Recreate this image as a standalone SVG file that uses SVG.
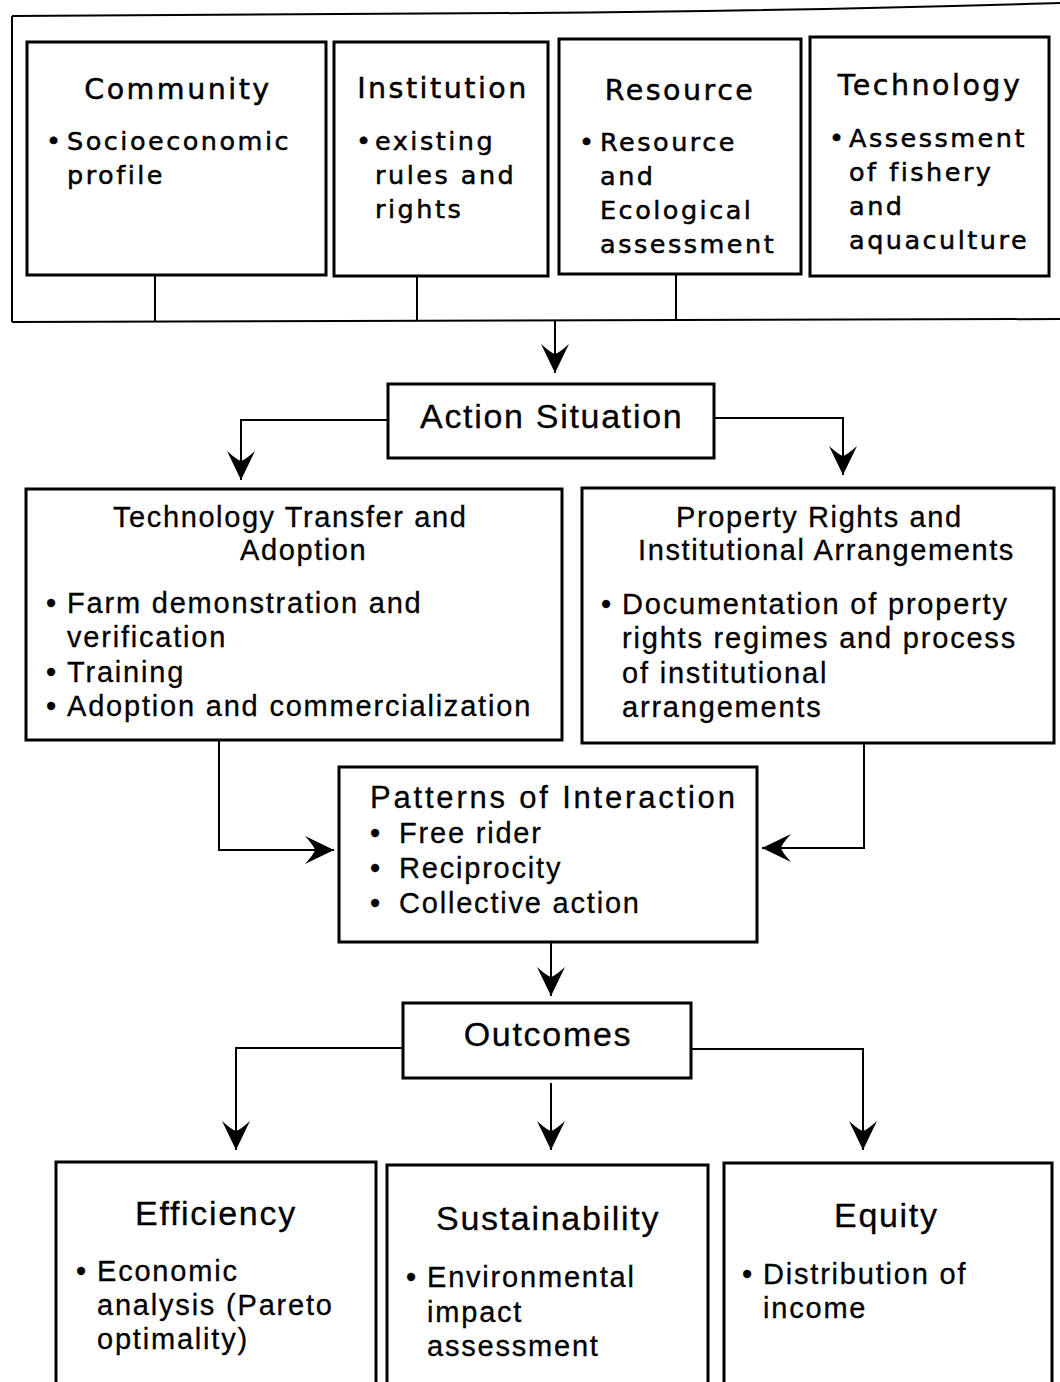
<svg xmlns="http://www.w3.org/2000/svg" width="1060" height="1382" viewBox="0 0 1060 1382">
<defs>
<marker id="ah" viewBox="0 0 30 30" refX="30" refY="15" markerWidth="30" markerHeight="30" markerUnits="userSpaceOnUse" orient="auto">
<path d="M30,15 L1,1 Q10,11 11,15 Q10,19 1,29 Z" fill="#000"/>
</marker>
<style>
.box{fill:#fff;stroke:#000;stroke-width:3}
.ln{fill:none;stroke:#000;stroke-width:2}
.tt{font-family:"DejaVu Sans",Verdana,sans-serif;font-size:28.5px;letter-spacing:2.5px;fill:#000;stroke:#000;stroke-width:0.5px}
.tb{font-family:"DejaVu Sans",Verdana,sans-serif;font-size:25.5px;letter-spacing:2.5px;fill:#000;stroke:#000;stroke-width:0.5px}
.mh{font-family:"Liberation Sans",Arial,sans-serif;font-size:34px;letter-spacing:1.7px;fill:#000;stroke:#000;stroke-width:0.3px}
.mt{font-family:"Liberation Sans",Arial,sans-serif;font-size:29px;letter-spacing:1.6px;fill:#000;stroke:#000;stroke-width:0.3px}
.mb{font-family:"Liberation Sans",Arial,sans-serif;font-size:29px;letter-spacing:1.8px;fill:#000;stroke:#000;stroke-width:0.3px}
.pt{font-family:"Liberation Sans",Arial,sans-serif;font-size:31px;letter-spacing:2.8px;fill:#000;stroke:#000;stroke-width:0.3px}
.mid{text-anchor:middle}
</style>
</defs>
<rect width="1060" height="1382" fill="#fff"/>

<g id="frame">
<path class="ln" d="M12,16 L530,13 C800,11 950,6 1060,3"/>
<path class="ln" d="M12,16 L12,322"/>
<path class="ln" d="M12,322 L1060,319"/>
</g>

<g id="community">
<rect class="box" x="27" y="42" width="299" height="233"/>
<text class="tt mid" x="178" y="99">Community</text>
<text class="tb" x="46" y="150">•</text>
<text class="tb" x="67" y="150">Socioeconomic</text>
<text class="tb" x="67" y="184">profile</text>
</g>

<g id="institution">
<rect class="box" x="334" y="42" width="214" height="234"/>
<text class="tt mid" x="443" y="98">Institution</text>
<text class="tb" x="356" y="150">•</text>
<text class="tb" x="375" y="150">existing</text>
<text class="tb" x="375" y="184">rules and</text>
<text class="tb" x="375" y="218">rights</text>
</g>

<g id="resource">
<rect class="box" x="559" y="39" width="242" height="235"/>
<text class="tt mid" x="680" y="100">Resource</text>
<text class="tb" x="579" y="151">•</text>
<text class="tb" x="600" y="151">Resource</text>
<text class="tb" x="600" y="185">and</text>
<text class="tb" x="600" y="219">Ecological</text>
<text class="tb" x="600" y="253">assessment</text>
</g>

<g id="technology">
<rect class="box" x="810" y="37" width="239" height="239"/>
<text class="tt mid" x="930" y="95">Technology</text>
<text class="tb" x="829" y="147">•</text>
<text class="tb" x="849" y="147">Assessment</text>
<text class="tb" x="849" y="181">of fishery</text>
<text class="tb" x="849" y="215">and</text>
<text class="tb" x="849" y="249">aquaculture</text>
</g>

<g id="action-situation">
<rect class="box" x="388" y="384" width="326" height="74"/>
<text class="mh" x="420" y="428">Action Situation</text>
</g>

<g id="technology-transfer">
<rect class="box" x="26" y="489" width="536" height="251"/>
<text class="mt" x="113" y="527">Technology Transfer and</text>
<text class="mt" x="240" y="560">Adoption</text>
<text class="mb" x="46" y="613">•</text>
<text class="mb" x="67" y="613">Farm demonstration and</text>
<text class="mb" x="67" y="647">verification</text>
<text class="mb" x="46" y="682">•</text>
<text class="mb" x="67" y="682">Training</text>
<text class="mb" x="46" y="716">•</text>
<text class="mb" x="67" y="716">Adoption and commercialization</text>
</g>

<g id="property-rights">
<rect class="box" x="582" y="488" width="472" height="255"/>
<text class="mt" x="676" y="527">Property Rights and</text>
<text class="mt" x="638" y="560">Institutional Arrangements</text>
<text class="mb" x="601" y="614">•</text>
<text class="mb" x="622" y="614">Documentation of property</text>
<text class="mb" x="622" y="648">rights regimes and process</text>
<text class="mb" x="622" y="683">of institutional</text>
<text class="mb" x="622" y="717">arrangements</text>
</g>

<g id="patterns">
<rect class="box" x="339" y="767" width="418" height="175"/>
<text class="pt" x="370" y="808">Patterns of Interaction</text>
<text class="mb" x="370" y="843">•</text>
<text class="mb" x="399" y="843">Free rider</text>
<text class="mb" x="370" y="878">•</text>
<text class="mb" x="399" y="878">Reciprocity</text>
<text class="mb" x="370" y="913">•</text>
<text class="mb" x="399" y="913">Collective action</text>
</g>

<g id="outcomes">
<rect class="box" x="403" y="1003" width="288" height="75"/>
<text class="mh mid" x="548" y="1046">Outcomes</text>
</g>

<g id="efficiency">
<rect class="box" x="56" y="1162" width="320" height="240"/>
<text class="mh" x="135" y="1225">Efficiency</text>
<text class="mb" x="76" y="1281">•</text>
<text class="mb" x="97" y="1281">Economic</text>
<text class="mb" x="97" y="1315">analysis (Pareto</text>
<text class="mb" x="97" y="1349">optimality)</text>
</g>

<g id="sustainability">
<rect class="box" x="387" y="1165" width="321" height="240"/>
<text class="mh" x="436" y="1230">Sustainability</text>
<text class="mb" x="406" y="1287">•</text>
<text class="mb" x="427" y="1287">Environmental</text>
<text class="mb" x="427" y="1322">impact</text>
<text class="mb" x="427" y="1356">assessment</text>
</g>

<g id="equity">
<rect class="box" x="724" y="1163" width="328" height="240"/>
<text class="mh" x="834" y="1227">Equity</text>
<text class="mb" x="742" y="1284">•</text>
<text class="mb" x="763" y="1284">Distribution of</text>
<text class="mb" x="763" y="1318">income</text>
</g>

<g id="connectors">
<line class="ln" x1="155" y1="276" x2="155" y2="321"/>
<line class="ln" x1="417" y1="277" x2="417" y2="321"/>
<line class="ln" x1="676" y1="275" x2="676" y2="320"/>
<path class="ln" d="M555,321 L555,373" marker-end="url(#ah)"/>
<path class="ln" d="M387,420 L241,420 L241,480" marker-end="url(#ah)"/>
<path class="ln" d="M715,418 L843,418 L843,475" marker-end="url(#ah)"/>
<path class="ln" d="M219,741 L219,850 L334,850" marker-end="url(#ah)"/>
<path class="ln" d="M864,744 L864,848 L762,848" marker-end="url(#ah)"/>
<path class="ln" d="M551,943 L551,996" marker-end="url(#ah)"/>
<path class="ln" d="M402,1048 L236,1048 L236,1150" marker-end="url(#ah)"/>
<path class="ln" d="M551,1083 L551,1150" marker-end="url(#ah)"/>
<path class="ln" d="M692,1049 L863,1049 L863,1150" marker-end="url(#ah)"/>
</g>
</svg>
